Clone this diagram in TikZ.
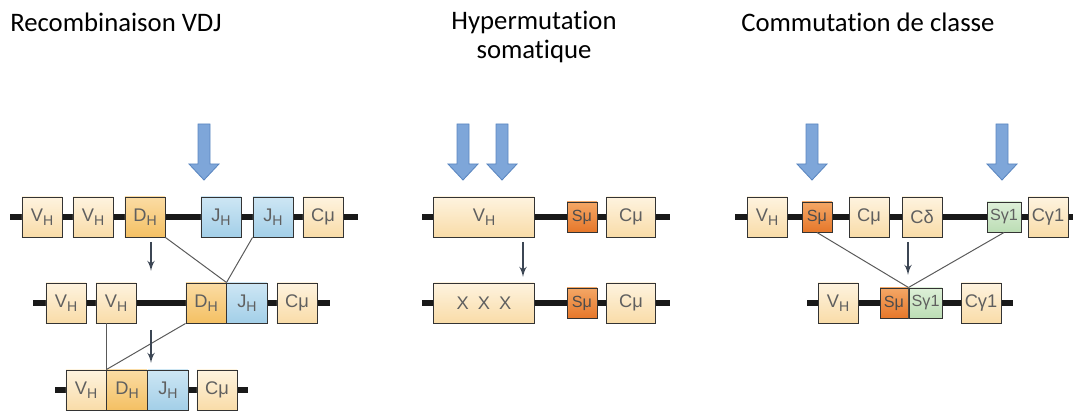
\documentclass[tikz,border=0pt]{standalone}
\usepackage{fontspec}
\setmainfont{Carlito}[Ligatures={NoCommon,NoContextual,NoRare}]
\newfontfamily\genefont{Liberation Sans}
\usepackage{tikz}
\usetikzlibrary{arrows, positioning, calc}
\definecolor{PaleTop}{HTML}{FEF3DF}
\definecolor{PaleBot}{HTML}{F9DCA8}
\definecolor{DTop}{HTML}{FBDCA4}
\definecolor{DBot}{HTML}{F4C063}
\definecolor{JTop}{HTML}{CDE6F4}
\definecolor{JBot}{HTML}{A3CFE8}
\definecolor{SmuTop}{HTML}{F4A766}
\definecolor{SmuBot}{HTML}{E6772A}
\definecolor{SgTop}{HTML}{DDF0D8}
\definecolor{SgBot}{HTML}{BCDDB5}
\definecolor{ArrowBlue}{HTML}{7EA6D9}
\definecolor{ArrowEdge}{HTML}{5A86C0}
\definecolor{SlateArrow}{HTML}{3C4654}
\definecolor{LabelGrey}{HTML}{5F5F5F}
\newcommand{\hsub}[1]{\raisebox{-0.45ex}{\fontsize{10}{10}\selectfont #1}}

\tikzset{
  dna/.style={line width=4.3pt, black!90},
  gene/.style={draw=black!80, line width=0.7pt, minimum width=1cm, minimum height=1cm,
    inner sep=0pt, top color=PaleTop, bottom color=PaleBot, text=LabelGrey,
    font=\genefont\fontsize{13}{13}\selectfont},
  dgene/.style={gene, top color=DTop, bottom color=DBot},
  jgene/.style={gene, top color=JTop, bottom color=JBot},
  smu/.style={gene, minimum width=0.75cm, minimum height=0.75cm, top color=SmuTop,
    bottom color=SmuBot, text=black!70, font=\genefont\fontsize{11.5}{11.5}\selectfont},
  sgam/.style={smu, top color=SgTop, bottom color=SgBot, text=LabelGrey},
  link/.style={black!65, line width=0.7pt},
  smallarrow/.style={->, SlateArrow, line width=1.5pt},
  bigarrow/.style={fill=ArrowBlue, draw=ArrowEdge, line width=0.6pt},
  heading/.style={inner sep=0pt, font=\fontsize{19}{21}\selectfont}
}

\begin{document}
\begin{tikzpicture}[x=0.025cm, y=-0.025cm, >=latex']
    \useasboundingbox (0,0) rectangle (1073,412);

    % Titles
    \node [heading, anchor=west] (tvdj) at (10,22) {Recombinaison VDJ};
    \node [heading, align=center] (thyp) at (534,37) {Hypermutat\kern0pt ion\\somat\kern0pt ique};
    \node [heading, anchor=west] (tcsr) at (741,22) {Commutat\kern0pt ion de classe};

    % Big blue arrows (cut sites / mutation sites)
    \foreach \x in {204, 463, 502, 812, 1002}
        \draw [bigarrow] (\x-6,124) -- (\x+6,124) -- (\x+6,164) -- (\x+15,164)
            -- (\x,180) -- (\x-15,164) -- (\x-6,164) -- cycle;

    % VDJ recombination, germline
    \draw [dna] (10,217) -- (358,217);
    \node [gene] (va1) at (42,217) {V\hsub{H}};
    \node [gene] (va2) at (93,217) {V\hsub{H}};
    \node [dgene] (da) at (145,217) {D\hsub{H}};
    \node [jgene] (ja1) at (221,217) {J\hsub{H}};
    \node [jgene] (ja2) at (273,217) {J\hsub{H}};
    \node [gene] (cma) at (323,217) {Cμ};

    % DJ joined
    \draw [dna] (33,303) -- (330,303);
    \node [gene] (vb1) at (66,303) {V\hsub{H}};
    \node [gene] (vb2) at (116,303) {V\hsub{H}};
    \node [dgene] (db) at (206,303) {D\hsub{H}};
    \node [jgene, right=0pt of db] (jb) {J\hsub{H}};
    \node [gene] (cmb) at (297,303) {Cμ};

    % VDJ joined
    \draw [dna] (55,390) -- (248,390);
    \node [gene] (vc) at (86,390) {V\hsub{H}};
    \node [dgene, right=0pt of vc] (dc) {D\hsub{H}};
    \node [jgene, right=0pt of dc] (jc) {J\hsub{H}};
    \node [gene] (cmc) at (217,390) {Cμ};

    \draw [link] (da.south east) -- (db.north east);
    \draw [link] (ja2.south west) -- (db.north east);
    \draw [link] (vb2.south -| vc.north east) -- (vc.north east);
    \draw [link] (db.south west) -- (vc.north east);

    \coordinate (sa1) at (151,242);
    \coordinate (sa2) at (151,330);
    \draw [smallarrow] (sa1) -- ++(0,29);
    \draw [smallarrow] (sa2) -- ++(0,33);

    % Somatic hypermutation
    \draw [dna] (422,217) -- (670,217);
    \node [gene, minimum width=2.5cm] (vh1) at (484,217) {V\hsub{H}};
    \node [smu] (sm1) at (582,217) {Sμ};
    \node [gene, minimum width=1.22cm] (cm1) at (631,217) {Cμ};

    \draw [dna] (422,303) -- (670,303);
    \node [gene, minimum width=2.5cm] (vh2) at (484,303) {X\hspace{0.5em}X\hspace{0.5em}X};
    \node [smu] (sm2) at (582,303) {Sμ};
    \node [gene, minimum width=1.22cm] (cm2) at (631,303) {Cμ};

    \coordinate (sa3) at (523,242);
    \draw [smallarrow] (sa3) -- ++(0,35);

    % Class switch recombination
    \draw [dna] (735,217) -- (1073,217);
    \node [gene] (cv1) at (767,217) {V\hsub{H}};
    \node [smu] (cs1) at (817,217) {Sμ};
    \node [gene] (cc1) at (869,217) {Cμ};
    \node [gene] (cd1) at (922,217) {Cδ};
    \node [sgam, minimum width=0.85cm] (cg1) at (1004,217) {Sγ1};
    \node [gene] (cy1) at (1048,217) {Cγ1};

    \draw [dna] (807,303) -- (1013,303);
    \node [gene] (cv2) at (838,303) {V\hsub{H}};
    \node [smu, minimum width=0.7cm] (cs2) at (894,303) {Sμ};
    \node [sgam, minimum width=0.83cm, right=0pt of cs2] (cg2) {Sγ1};
    \node [gene] (cy2) at (981,303) {Cγ1};

    \draw [link] (cs1.south) -- (cs2.north east);
    \draw [link] (cg1.south) -- (cs2.north east);

    \coordinate (sa4) at (908,242);
    \draw [smallarrow] (sa4) -- ++(0,33);
\end{tikzpicture}
\end{document}
